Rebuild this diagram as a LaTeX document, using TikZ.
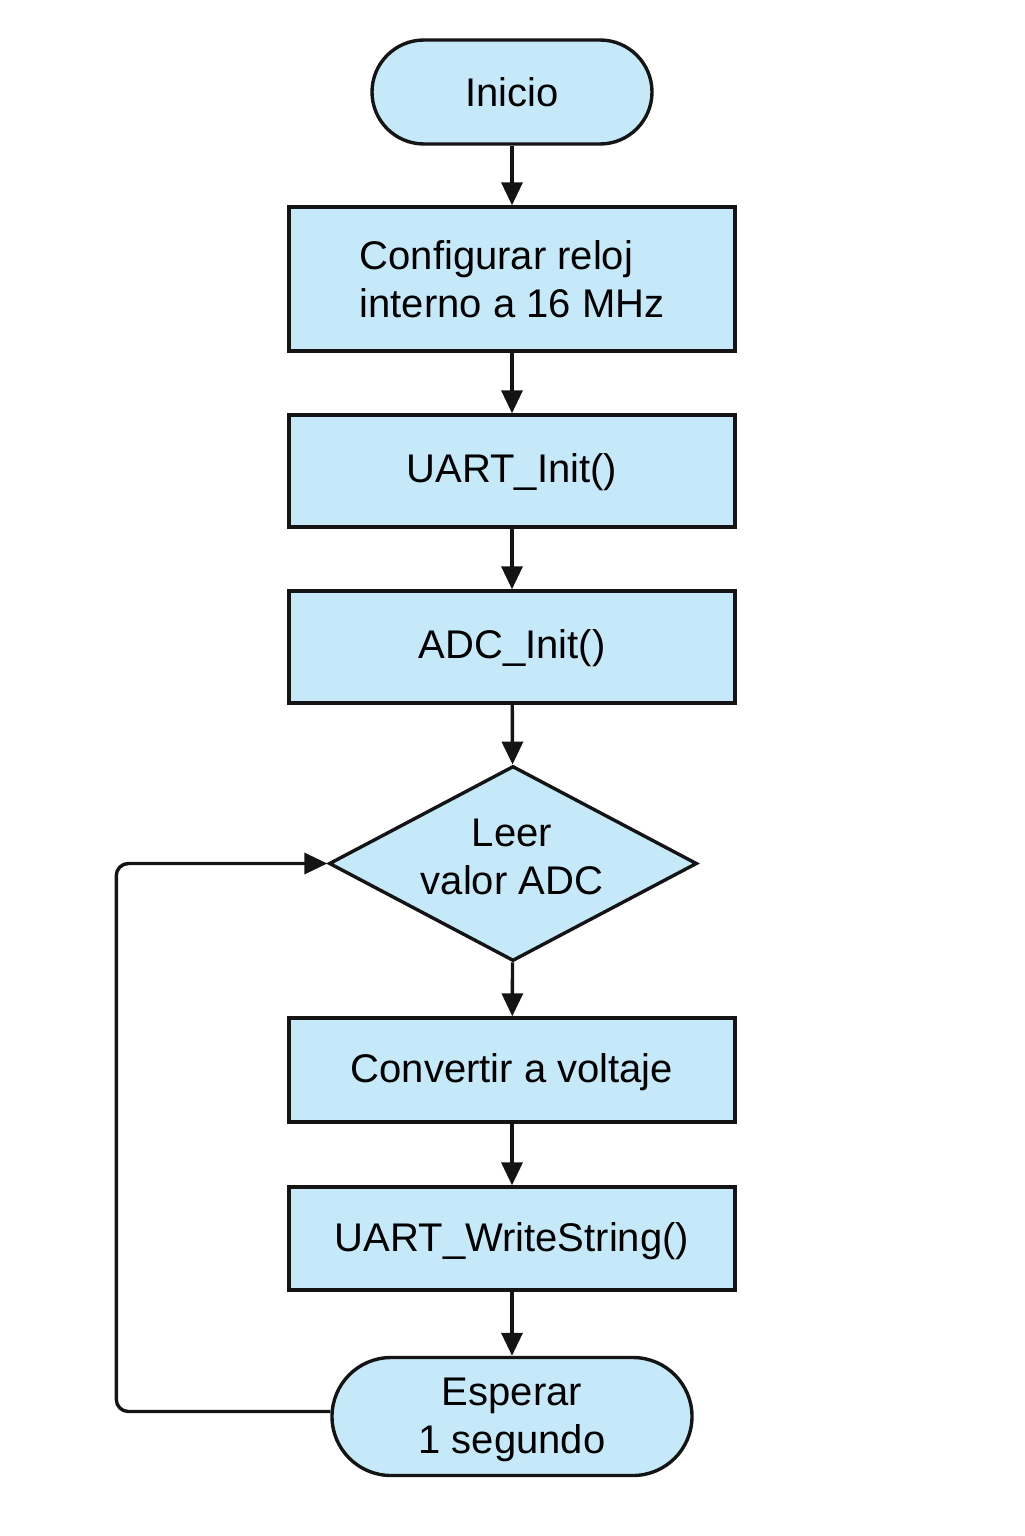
\documentclass[tikz,border=0pt]{standalone}
\usepackage{fontspec}
\setmainfont{Liberation Sans}
\usetikzlibrary{shapes.geometric,arrows.meta}
\definecolor{boxfill}{HTML}{C6E9F9}
\definecolor{lineclr}{HTML}{141414}
\tikzset{
  base/.style={draw=lineclr, line width=1.7pt, fill=boxfill, inner sep=0pt, font=\fontsize{20pt}{24pt}\selectfont, text=black},
  procbox/.style={base, rectangle, minimum width=223pt, align=center},
  termbox/.style={base, rectangle, rounded corners=#1, align=center},
  decbox/.style={base, diamond, minimum width=184pt, minimum height=97.5pt},
  lbl/.style={inner sep=0pt, font=\fontsize{20pt}{24pt}\selectfont, text=black, align=center},
  conn/.style={draw=lineclr, line width=1.7pt, -{Triangle[length=11.5pt,width=10.5pt]}}
}
\begin{document}
\begin{tikzpicture}[x=0.5pt,y=-0.5pt]
\useasboundingbox (0,0) rectangle (1024,1536);
\node[termbox=26pt, minimum width=140pt, minimum height=52pt] (ini) at (512,92) {Inicio};
\node[procbox, minimum height=72pt, align=left] (clk) at (512,279) {Configurar reloj\\interno a 16 MHz};
\node[procbox, minimum height=56pt, text depth=3pt] (uart) at (512,471) {UART\_Init()};
\node[procbox, minimum height=56pt, text depth=3pt] (adc) at (512,647) {ADC\_Init()};
\node[decbox] (leer) at (513,863.5) {};
\node[lbl] (leertxt) at (512,857) {Leer\\valor ADC};
\node[procbox, minimum height=52pt, text depth=2pt] (conv) at (512,1070) {Convertir a voltaje};
\node[procbox, minimum height=51.5pt, text depth=2pt] (wr) at (512,1238.5) {UART\_WriteString()};
\node[termbox=29.5pt, minimum width=180pt, minimum height=59pt] (esp) at (512,1416.5) {};
\node[lbl] (esptxt) at (512,1420) {Esperar\\1 segundo};
\draw[conn] (ini) -- (clk);
\draw[conn] (clk) -- (uart);
\draw[conn] (uart) -- (adc);
\draw[conn] (adc) -- (leer);
\draw[conn] (leer) -- (conv);
\draw[conn] (conv) -- (wr);
\draw[conn] (wr) -- (esp);
\draw[conn, rounded corners=6pt] ([yshift=2.5pt]esp.west) -- ++(-214,0) |- (leer.west);
\end{tikzpicture}
\end{document}
